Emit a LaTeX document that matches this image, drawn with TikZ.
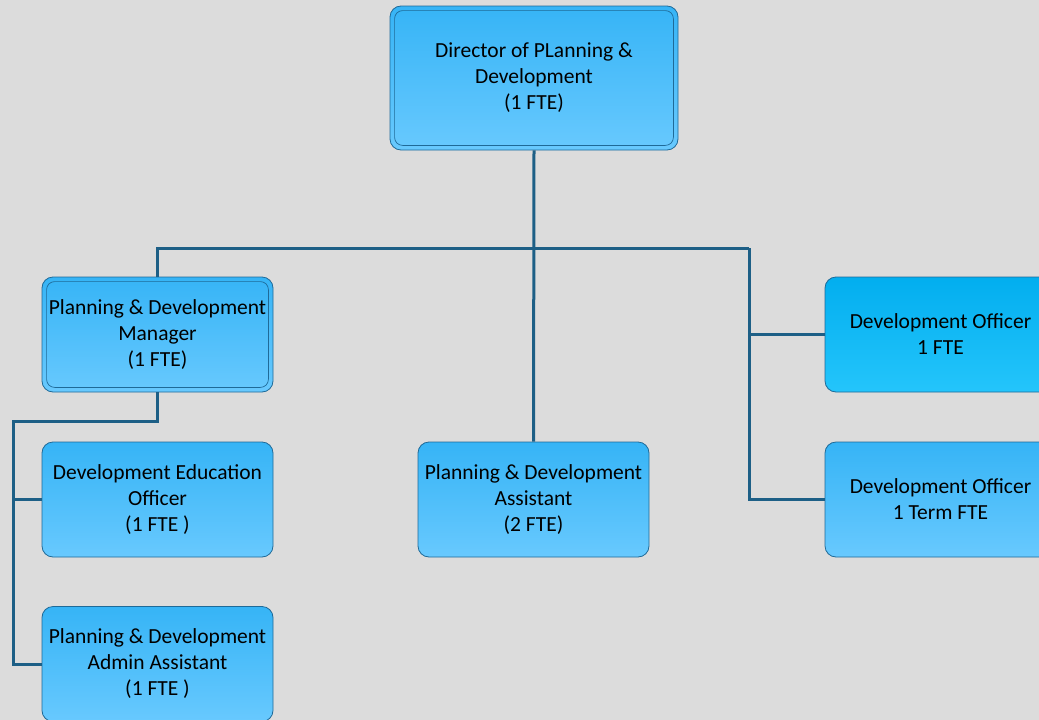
\documentclass[tikz,border=0pt]{standalone}
\usepackage{fontspec}
\setmainfont{Carlito}
\begin{document}
\begin{tikzpicture}[x=1pt,y=-1pt,
  box/.style={draw=boxedge, line width=0.8pt, rounded corners=11pt,
    top color=boxtop, bottom color=boxbot, minimum width=231pt, minimum height=115pt,
    align=center, inner sep=0pt, text=black,
    font=\fontsize{21.5}{26}\selectfont},
  boxcyan/.style={box, top color=cyantop, bottom color=cyanbot},
  frame/.style={draw=boxedge, line width=0.7pt, rounded corners=8pt},
  conn/.style={draw=linecol, line width=3pt}]
\definecolor{bg}{HTML}{DCDCDC}
\definecolor{boxedge}{HTML}{1F6A98}
\definecolor{boxtop}{HTML}{36B4F6}
\definecolor{boxbot}{HTML}{68C9FE}
\definecolor{cyantop}{HTML}{02AEEF}
\definecolor{cyanbot}{HTML}{24C5FB}
\definecolor{linecol}{HTML}{1D5F86}
\useasboundingbox (0,0) rectangle (1039,720);
\fill[bg] (0,0) rectangle (1039,720);
\clip (0,0) rectangle (1039,720);

% boxes
\node[box, minimum width=288pt, minimum height=144pt] (dir) at (534,78)
  {Director of PLanning \&\\Development\\(1 FTE)};
\node[box] (mgr) at (157.5,334.5) {Planning \& Development\\Manager\\(1 FTE)};
\node[box] (deo) at (157.5,499.5) {Development Education\\Officer\\(1 FTE )};
\node[box] (aa) at (157.5,664) {Planning \& Development\\Admin Assistant\\(1 FTE )};
\node[box] (pda) at (533.5,499.5) {Planning \& Development\\Assistant\\(2 FTE)};
\node[boxcyan] (do1) at (940.5,334.5) {Development Officer\\1 FTE};
\node[box] (do2) at (940.5,499.5) {Development Officer\\1 Term FTE};

% inner frames of the double-bordered boxes
\draw[frame] ([shift={(5,5)}]dir.north west) rectangle ([shift={(-5,-5)}]dir.south east);
\draw[frame] ([shift={(5,5)}]mgr.north west) rectangle ([shift={(-5,-5)}]mgr.south east);

% connectors
\coordinate (busL) at (157.5,248);
\coordinate (busR) at (749,248);
\coordinate (mj) at (13,421);
\draw[conn] (dir.south) -- (pda.north);
\draw[conn] (mgr.north) -- (busL) -- (busR);
\draw[conn] (busR) |- (do1.west);
\draw[conn] (busR) |- (do2.west);
\draw[conn] (mgr.south) |- (mj) |- (aa.west);
\draw[conn] (mj) |- (deo.west);
\end{tikzpicture}
\end{document}
